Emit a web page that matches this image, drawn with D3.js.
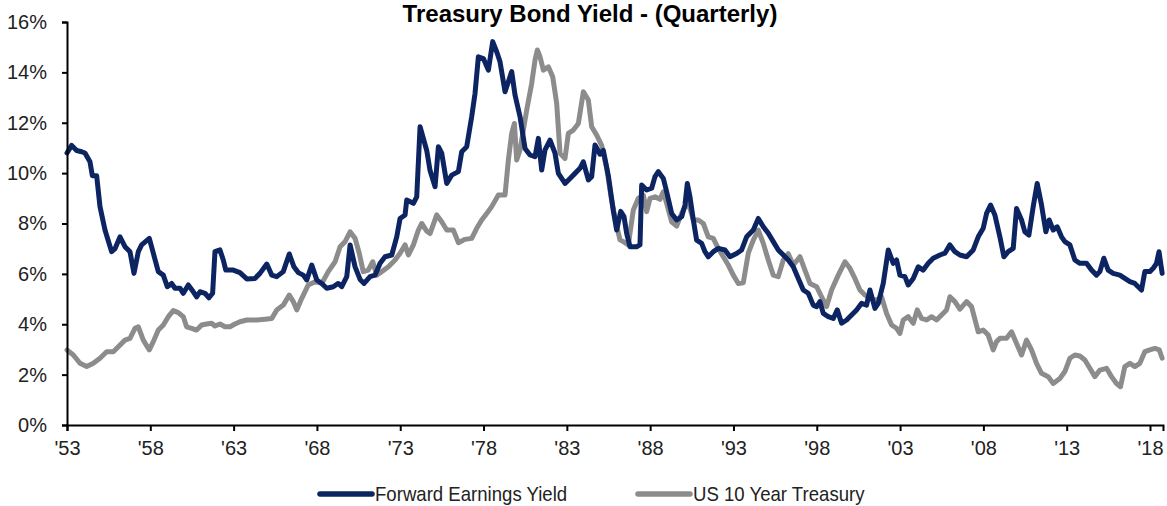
<!DOCTYPE html>
<html>
<head>
<meta charset="utf-8">
<script src="https://cdn.jsdelivr.net/npm/d3@7"></script>
<style>
  body { margin: 0; background: #fff; }
  text { font-family: "Liberation Sans Narrow", "Arial Narrow", "Liberation Sans", sans-serif; }
</style>
</head>
<body>
<script>
// quarterly readings, [year, percent]
const forwardEarningsYield = [
  [1953.0,10.8],[1953.28,11.1],[1953.58,10.9],[1953.88,10.85],[1954.08,10.8],[1954.38,10.45],[1954.52,9.9],[1954.78,9.9],
  [1954.98,8.67],[1955.28,7.74],[1955.68,6.88],[1955.88,7.0],[1956.18,7.47],[1956.48,7.08],[1956.78,6.88],[1957.02,6.02],
  [1957.28,6.88],[1957.48,7.15],[1957.94,7.41],[1958.18,6.82],[1958.48,6.09],[1958.78,5.95],[1959.02,5.49],[1959.28,5.62],
  [1959.48,5.43],[1959.78,5.43],[1959.98,5.23],[1960.28,5.56],[1960.58,5.29],[1960.78,5.09],[1960.98,5.29],[1961.28,5.23],
  [1961.52,5.05],[1961.74,5.23],[1961.88,6.88],[1962.18,6.95],[1962.38,6.55],[1962.53,6.15],[1962.98,6.15],[1963.38,6.05],
  [1963.79,5.8],[1964.28,5.82],[1964.58,6.02],[1964.99,6.39],[1965.29,5.95],[1965.59,5.89],[1965.98,6.09],[1966.34,6.79],
  [1966.62,6.28],[1966.88,6.05],[1967.18,5.95],[1967.39,5.76],[1967.69,6.35],[1967.99,5.76],[1968.29,5.62],[1968.59,5.43],
  [1968.98,5.49],[1969.28,5.62],[1969.49,5.49],[1969.79,5.89],[1969.99,7.15],[1970.29,6.28],[1970.59,5.78],[1970.83,5.62],
  [1971.19,5.89],[1971.49,5.95],[1971.79,6.42],[1972.09,6.68],[1972.49,6.75],[1972.79,7.47],[1972.99,8.2],[1973.29,8.34],
  [1973.39,8.93],[1973.79,8.8],[1973.99,9.06],[1974.19,11.84],[1974.59,10.9],[1974.79,10.1],[1975.09,9.46],[1975.29,11.05],
  [1975.49,10.79],[1975.79,9.59],[1976.09,9.92],[1976.49,10.06],[1976.69,10.85],[1976.99,11.05],[1977.29,12.24],[1977.49,13.17],
  [1977.69,14.62],[1977.99,14.55],[1978.29,14.09],[1978.55,15.22],[1978.79,14.82],[1978.99,14.42],[1979.29,13.23],[1979.49,13.63],
  [1979.69,14.03],[1979.89,13.1],[1980.19,12.24],[1980.49,10.98],[1980.79,10.72],[1981.09,10.65],[1981.29,11.38],[1981.49,10.12],
  [1981.69,10.92],[1981.99,11.31],[1982.29,10.79],[1982.49,9.99],[1982.89,9.59],[1983.19,9.79],[1983.49,9.99],[1983.79,10.19],
  [1983.99,10.45],[1984.29,9.73],[1984.49,9.86],[1984.69,11.12],[1984.99,10.75],[1985.19,10.9],[1985.49,9.9],[1985.79,8.5],
  [1985.99,7.74],[1986.23,8.48],[1986.43,8.27],[1986.59,7.61],[1986.79,7.08],[1987.19,7.08],[1987.39,7.15],[1987.49,9.53],
  [1987.79,9.33],[1988.09,9.4],[1988.29,9.86],[1988.49,10.06],[1988.79,9.79],[1988.99,9.26],[1989.29,8.4],[1989.59,8.14],
  [1989.89,8.27],[1990.09,8.73],[1990.23,9.59],[1990.39,9.06],[1990.59,8.14],[1990.79,7.34],[1991.09,7.21],[1991.29,6.88],
  [1991.49,6.68],[1991.79,6.88],[1992.09,7.01],[1992.49,6.95],[1992.79,6.68],[1993.19,6.81],[1993.49,6.95],[1993.79,7.47],
  [1994.19,7.74],[1994.49,8.2],[1994.79,7.87],[1995.09,7.61],[1995.39,7.28],[1995.69,6.95],[1995.99,6.75],[1996.29,6.55],
  [1996.59,6.28],[1996.89,5.82],[1997.19,5.36],[1997.49,5.23],[1997.79,4.76],[1997.99,4.7],[1998.19,4.9],[1998.39,4.43],
  [1998.69,4.3],[1998.99,4.23],[1999.23,4.57],[1999.49,4.04],[1999.79,4.17],[2000.09,4.37],[2000.39,4.57],[2000.69,4.83],
  [2000.99,4.76],[2001.19,5.36],[2001.49,4.63],[2001.69,4.83],[2001.99,5.62],[2002.29,6.95],[2002.59,6.42],[2002.79,6.55],
  [2002.99,5.95],[2003.29,5.89],[2003.49,5.56],[2003.79,5.82],[2004.09,6.28],[2004.39,6.15],[2004.69,6.42],[2004.99,6.62],
  [2005.39,6.75],[2005.69,6.82],[2005.99,7.15],[2006.29,6.88],[2006.59,6.75],[2006.99,6.68],[2007.39,6.95],[2007.69,7.47],
  [2007.99,7.81],[2008.19,8.4],[2008.43,8.73],[2008.69,8.34],[2008.99,7.47],[2009.23,6.68],[2009.49,6.88],[2009.79,7.01],
  [2009.99,8.6],[2010.29,8.14],[2010.49,7.67],[2010.73,7.54],[2010.99,8.67],[2011.23,9.59],[2011.49,8.73],[2011.75,7.67],
  [2011.95,8.14],[2012.19,7.74],[2012.43,7.87],[2012.69,7.47],[2012.89,7.28],[2013.19,7.15],[2013.49,6.55],[2013.79,6.42],
  [2014.19,6.42],[2014.49,6.15],[2014.79,5.95],[2014.99,6.09],[2015.23,6.62],[2015.49,6.15],[2015.79,6.02],[2016.19,5.95],
  [2016.49,5.82],[2016.79,5.69],[2017.09,5.62],[2017.49,5.36],[2017.69,6.09],[2017.99,6.09],[2018.19,6.22],[2018.39,6.42],
  [2018.54,6.88],[2018.73,6.02]
];

const treasury10Year = [
  [1953.0,2.98],[1953.38,2.78],[1953.78,2.45],[1954.18,2.32],[1954.58,2.45],[1954.98,2.65],[1955.38,2.91],[1955.78,2.91],
  [1956.08,3.11],[1956.48,3.37],[1956.78,3.44],[1957.08,3.84],[1957.28,3.9],[1957.58,3.37],[1957.94,2.98],[1958.18,3.31],
  [1958.48,3.77],[1958.78,3.97],[1959.08,4.3],[1959.38,4.54],[1959.68,4.46],[1959.98,4.3],[1960.18,3.9],[1960.48,3.84],
  [1960.78,3.77],[1961.08,3.97],[1961.38,4.01],[1961.68,4.04],[1961.88,3.93],[1962.18,4.01],[1962.48,3.9],[1962.78,3.9],
  [1963.08,4.01],[1963.38,4.1],[1963.79,4.17],[1964.39,4.17],[1964.88,4.2],[1965.29,4.23],[1965.59,4.57],[1965.98,4.76],
  [1966.34,5.16],[1966.58,4.9],[1966.79,4.57],[1967.09,5.03],[1967.48,5.56],[1967.89,5.69],[1968.29,5.62],[1968.68,6.09],
  [1969.09,6.48],[1969.39,7.08],[1969.69,7.28],[1969.99,7.67],[1970.29,7.41],[1970.54,6.82],[1970.78,6.09],[1971.08,6.15],
  [1971.35,6.48],[1971.59,5.95],[1971.89,6.09],[1972.29,6.28],[1972.69,6.55],[1972.99,6.82],[1973.29,7.15],[1973.49,6.75],
  [1973.79,7.15],[1974.09,7.74],[1974.29,8.0],[1974.59,7.7],[1974.79,7.6],[1975.19,8.34],[1975.49,8.07],[1975.79,7.74],
  [1976.19,7.74],[1976.49,7.24],[1976.89,7.37],[1977.29,7.41],[1977.59,7.81],[1977.89,8.14],[1978.19,8.4],[1978.49,8.67],
  [1978.89,9.13],[1979.29,9.13],[1979.49,10.52],[1979.69,11.58],[1979.85,11.97],[1979.99,10.52],[1980.19,10.92],[1980.39,11.71],
  [1980.59,12.5],[1980.89,13.56],[1981.09,14.49],[1981.23,14.89],[1981.39,14.62],[1981.59,14.09],[1981.89,14.22],[1982.15,13.83],
  [1982.39,12.77],[1982.59,10.79],[1982.89,10.58],[1983.09,11.58],[1983.39,11.71],[1983.69,11.97],[1983.99,13.23],[1984.29,12.9],
  [1984.49,11.84],[1984.79,11.51],[1985.09,11.1],[1985.39,10.2],[1985.69,8.9],[1985.99,7.9],[1986.19,7.35],[1986.39,7.28],
  [1986.69,7.15],[1986.99,8.54],[1987.29,9.0],[1987.59,9.13],[1987.79,8.47],[1987.99,9.0],[1988.29,9.06],[1988.59,8.96],
  [1988.79,9.26],[1988.99,8.8],[1989.29,8.07],[1989.59,7.9],[1989.89,8.4],[1990.19,8.8],[1990.39,8.6],[1990.59,8.14],
  [1990.89,8.14],[1991.19,8.0],[1991.49,7.47],[1991.79,7.41],[1992.09,7.01],[1992.39,6.68],[1992.69,6.35],[1992.99,5.95],
  [1993.29,5.62],[1993.59,5.65],[1993.89,6.82],[1994.19,7.34],[1994.49,7.74],[1994.79,7.21],[1995.09,6.55],[1995.39,5.95],
  [1995.69,5.89],[1995.99,6.55],[1996.29,6.8],[1996.59,6.35],[1996.99,6.68],[1997.29,6.15],[1997.59,5.62],[1997.99,5.49],
  [1998.29,5.09],[1998.59,4.7],[1998.89,5.36],[1999.29,5.95],[1999.69,6.48],[1999.99,6.22],[2000.29,5.82],[2000.59,5.36],
  [2000.89,5.16],[2001.19,5.03],[2001.59,4.96],[2001.89,5.09],[2002.19,4.43],[2002.49,3.97],[2002.79,3.84],[2002.99,3.64],
  [2003.19,4.17],[2003.49,4.3],[2003.79,4.04],[2004.03,4.57],[2004.29,4.23],[2004.59,4.17],[2004.89,4.3],[2005.19,4.17],
  [2005.49,4.37],[2005.79,4.57],[2005.99,5.09],[2006.29,4.9],[2006.59,4.6],[2006.99,4.9],[2007.29,4.7],[2007.69,3.7],
  [2007.99,3.77],[2008.29,3.57],[2008.59,2.98],[2008.79,3.31],[2008.99,3.44],[2009.39,3.44],[2009.69,3.7],[2009.99,3.24],
  [2010.29,2.78],[2010.59,3.37],[2010.89,2.98],[2011.19,2.45],[2011.49,2.05],[2011.89,1.92],[2012.19,1.65],[2012.59,1.85],
  [2012.89,2.12],[2013.19,2.65],[2013.49,2.78],[2013.79,2.74],[2014.09,2.58],[2014.39,2.25],[2014.69,1.92],[2014.99,2.18],
  [2015.39,2.25],[2015.69,1.92],[2015.99,1.65],[2016.23,1.52],[2016.49,2.32],[2016.79,2.45],[2017.09,2.32],[2017.39,2.45],
  [2017.69,2.91],[2017.99,2.98],[2018.29,3.04],[2018.56,2.98],[2018.73,2.65]
];

const tickYears = [1953, 1958, 1963, 1968, 1973, 1978, 1983, 1988, 1993, 1998, 2003, 2008, 2013, 2018];
const yTicks = [0, 2, 4, 6, 8, 10, 12, 14, 16];
const seriesNames = ["Forward Earnings Yield", "US 10 Year Treasury"];
const seriesColors = ["#0c2461", "#8c8c8c"];
const chartTitle = "Treasury Bond Yield - (Quarterly)";

const W = 1167, H = 506;
const svg = d3.select("body").append("svg")
    .attr("width", W)
    .attr("height", H);

let x = d3.scaleLinear().domain([1953, 2018.78]).range([67, 1163]);
let y = d3.scaleLinear().domain([0, 16]).range([425, 22]);

// title, sits right at the top edge
svg.append("text")
    .attr("x", 590)
    .attr("y", 22)
    .attr("text-anchor", "middle")
    .style("font-family", "'Liberation Sans', Arial, sans-serif")
    .style("font-weight", "bold")
    .style("font-size", "24px")
    .text(chartTitle);

let line = d3.line().x(d => x(d[0])).y(d => y(d[1]));

[treasury10Year, forwardEarningsYield].forEach((s, i) => {
    svg.append("path")
        .datum(s)
        .attr("d", line)
        .attr("fill", "none")
        .attr("stroke", i == 0 ? seriesColors[1] : seriesColors[0])
        .attr("stroke-width", 5)
        .attr("stroke-linejoin", "round")
        .attr("stroke-linecap", "round");
});

// y axis
let yAxis = svg.append("g")
    .attr("transform", "translate(67,0)")
    .call(d3.axisLeft(y).tickValues(yTicks).tickFormat(d => d + "%").tickSize(5).tickPadding(15));

// x axis
let xAxis = svg.append("g")
    .attr("transform", "translate(0,425)")
    .call(d3.axisBottom(x).tickValues(tickYears).tickFormat(d => "'" + String(d).slice(2)).tickSize(6).tickPadding(10));

[yAxis, xAxis].forEach(a => {
    a.select(".domain").attr("stroke", "#000").attr("stroke-width", 2);
    a.selectAll(".tick line").attr("stroke", "#000").attr("stroke-width", 2);
    a.selectAll(".tick text")
        .attr("fill", "#222")
        .style("font-size", "20px")
        .style("font-family", "'Liberation Sans Narrow', 'Arial Narrow', 'Liberation Sans', sans-serif");
});

// legend (text squeezed a little, the source uses a narrow face)
const legendX = [320, 638];
seriesNames.forEach((name, i) => {
    let g = svg.append("g").attr("transform", "translate(" + legendX[i] + ",494)");
    g.append("line")
        .attr("x1", 0).attr("x2", 52)
        .attr("stroke", seriesColors[i])
        .attr("stroke-width", 5.5)
        .attr("stroke-linecap", "round");
    g.append("text")
        .attr("transform", "translate(55,7) scale(0.93,1)")
        .attr("fill", "#222")
        .style("font-size", "20px")
        .text(name);
});
</script>
</body>
</html>
